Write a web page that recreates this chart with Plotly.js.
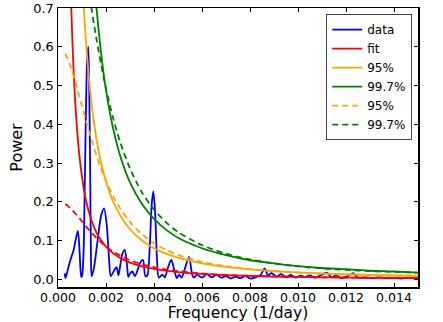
<!DOCTYPE html>
<html>
<head>
<meta charset="utf-8">
<script src="https://cdn.plot.ly/plotly-3.0.1.min.js"></script>
<style>
  html, body { margin: 0; padding: 0; background: #fff; }
  #chart { width: 443px; height: 322px; }
</style>
</head>
<body>
<div id="chart"></div>
<script>
// ── Periodogram data ──────────────────────────────────────────────────────
const dataFreq = [
  0.00028, 0.00031, 0.00036, 0.00045, 0.00056, 0.00065, 0.00073, 0.00083, 0.00090, 0.00097,
  0.00100, 0.00106, 0.00111, 0.00116, 0.00121, 0.00126, 0.00130, 0.00134, 0.00137, 0.00140,
  0.00150, 0.00165, 0.00180, 0.00192, 0.00203, 0.00213, 0.00220,
  0.00236, 0.00244, 0.00252, 0.00258, 0.00268, 0.00278, 0.00287, 0.00293,
  0.00300, 0.00310, 0.00320, 0.00335, 0.00340, 0.00354, 0.00364,
  0.00372, 0.00382, 0.00390, 0.00397, 0.00404, 0.00412, 0.00420,
  0.00435, 0.00445, 0.00458, 0.00472, 0.00486, 0.00495, 0.00505, 0.00515,
  0.00530, 0.00546, 0.00558, 0.00565,
  0.0058, 0.0060, 0.0062, 0.0064, 0.0066, 0.0068, 0.0070, 0.0072, 0.0074, 0.0076,
  0.0078, 0.0080, 0.0082, 0.00845, 0.00861, 0.00875, 0.0089, 0.0091, 0.0093, 0.0095,
  0.0097, 0.0099, 0.0101, 0.0103, 0.0105, 0.0107, 0.0109, 0.0112, 0.0114, 0.0116,
  0.0118, 0.0121, 0.0123, 0.0125, 0.0128, 0.0131, 0.0134, 0.0137, 0.0140, 0.0143,
  0.0146, 0.0150
];
const dataPower = [
  0.015, 0.003, 0.012, 0.035, 0.058, 0.075, 0.100, 0.125, 0.070, 0.006,
  0.008, 0.060, 0.220, 0.420, 0.560, 0.600, 0.500, 0.280, 0.080, 0.008,
  0.030, 0.100, 0.165, 0.183, 0.140, 0.050, 0.008,
  0.025, 0.031, 0.010, 0.030, 0.065, 0.076, 0.040, 0.006,
  0.015, 0.020, 0.008, 0.030, 0.040, 0.050, 0.008,
  0.010, 0.080, 0.190, 0.227, 0.180, 0.060, 0.004,
  0.012, 0.005, 0.030, 0.050, 0.020, 0.003, 0.012, 0.004,
  0.030, 0.058, 0.015, 0.004,
  0.012, 0.004, 0.013, 0.005, 0.012, 0.004, 0.008, 0.002, 0.007, 0.003,
  0.008, 0.002, 0.004, 0.012, 0.028, 0.010, 0.016, 0.007, 0.013, 0.005,
  0.011, 0.004, 0.009, 0.006, 0.010, 0.004, 0.009, 0.017, 0.005, 0.010,
  0.003, 0.009, 0.016, 0.004, 0.005, 0.003, 0.005, 0.003, 0.004, 0.002,
  0.004, 0.003
];

// ── Fit and significance levels (solid) ───────────────────────────────────
const fitFreq = [
  0.00055, 0.0006, 0.0007, 0.0008, 0.0009, 0.0010, 0.0011, 0.0012, 0.0013, 0.0014,
  0.0016, 0.0018, 0.0020, 0.0023, 0.0026, 0.0030, 0.0035, 0.0040, 0.0045, 0.0050,
  0.0060, 0.0070, 0.0080, 0.0090, 0.0100, 0.0110, 0.0120, 0.0130, 0.0140, 0.0150
];
const fitPower = [
  0.707, 0.613, 0.475, 0.381, 0.314, 0.264, 0.225, 0.195, 0.171, 0.151,
  0.121, 0.100, 0.084, 0.0667, 0.0545, 0.0430, 0.0334, 0.0268, 0.0220, 0.0185,
  0.0137, 0.0106, 0.0085, 0.0070, 0.0059, 0.0050, 0.0044, 0.0038, 0.0034, 0.0030
];
const conf95Freq = [
  0.0010, 0.0011, 0.0012, 0.0013, 0.0014, 0.0016, 0.0018, 0.0020, 0.0023, 0.0026,
  0.0030, 0.0035, 0.0040, 0.0045, 0.0050, 0.0060, 0.0070, 0.0080, 0.0090, 0.0100,
  0.0110, 0.0120, 0.0130, 0.0140, 0.0150
];
const conf95Power = [
  0.792, 0.675, 0.585, 0.513, 0.453, 0.363, 0.300, 0.252, 0.200, 0.164,
  0.129, 0.100, 0.080, 0.066, 0.0555, 0.041, 0.032, 0.0255, 0.021, 0.0177,
  0.015, 0.0132, 0.0114, 0.0102, 0.009
];
const conf997Freq = [
  0.0014, 0.0016, 0.0018, 0.0020, 0.0023, 0.0026, 0.0030, 0.0035, 0.0040, 0.0045,
  0.0050, 0.0060, 0.0070, 0.0080, 0.0090, 0.0100, 0.0110, 0.0120, 0.0130, 0.0140,
  0.0150
];
const conf997Power = [
  0.877, 0.703, 0.581, 0.488, 0.388, 0.317, 0.250, 0.194, 0.156, 0.128,
  0.107, 0.080, 0.062, 0.049, 0.041, 0.034, 0.029, 0.026, 0.022, 0.020,
  0.017
];

// ── Alternative fit and its levels (dashed) ───────────────────────────────
const altFreq = [
  0.0003, 0.0004, 0.0005, 0.0006, 0.0007, 0.0008, 0.0009, 0.0010, 0.0011, 0.0012,
  0.0013, 0.0014, 0.0016, 0.0018, 0.0020, 0.0023, 0.0026, 0.0030, 0.0035, 0.0040,
  0.0045, 0.0050, 0.0060, 0.0070, 0.0080, 0.0090, 0.0100, 0.0110, 0.0120, 0.0130,
  0.0140, 0.0150
];
const altFitPower = [
  0.194, 0.190, 0.184, 0.178, 0.171, 0.164, 0.157, 0.149, 0.142, 0.134,
  0.127, 0.120, 0.107, 0.095, 0.085, 0.071, 0.061, 0.049, 0.039, 0.031,
  0.025, 0.021, 0.015, 0.011, 0.0088, 0.0072, 0.0060, 0.0050, 0.0043, 0.0037,
  0.0033, 0.0030
];
const alt95Power = [
  0.582, 0.569, 0.553, 0.534, 0.514, 0.493, 0.470, 0.447, 0.425, 0.402,
  0.381, 0.360, 0.320, 0.285, 0.254, 0.214, 0.182, 0.148, 0.116, 0.093,
  0.076, 0.063, 0.045, 0.034, 0.026, 0.021, 0.017, 0.014, 0.012, 0.0105,
  0.0095, 0.0085
];
const alt997Freq = [
  0.0012, 0.0013, 0.0014, 0.0016, 0.0018, 0.0020, 0.0023, 0.0026, 0.0030, 0.0035,
  0.0040, 0.0045, 0.0050, 0.0060, 0.0070, 0.0080, 0.0090, 0.0100, 0.0110, 0.0120,
  0.0130, 0.0140, 0.0150
];
const alt997Power = [
  0.779, 0.737, 0.697, 0.621, 0.553, 0.492, 0.415, 0.352, 0.286, 0.224,
  0.180, 0.147, 0.122, 0.088, 0.066, 0.051, 0.041, 0.033, 0.028, 0.024,
  0.021, 0.019, 0.017
];

const FONT = 'DejaVu Sans, Arial, sans-serif';
const DASH = '6px,4px';

const line = (name, x, y, color, dash, showlegend) => ({
  x, y,
  type: 'scatter', mode: 'lines',
  name,
  showlegend: showlegend !== false,
  line: { color, width: 1.8, dash: dash || 'solid', shape: 'spline', smoothing: 0.8 },
  hoverinfo: 'skip'
});

const traces = [
  line('data',  dataFreq,    dataPower,    '#0000ff'),
  line('fit',   fitFreq,     fitPower,     '#ff0000'),
  line('95%',   conf95Freq,  conf95Power,  '#ffa500'),
  line('99.7%', conf997Freq, conf997Power, '#008000'),
  line('95%',   altFreq,     alt95Power,   '#ffa500', DASH),
  line('99.7%', alt997Freq,  alt997Power,  '#008000', DASH),
  line('alt fit', altFreq,   altFitPower,  '#ff0000', DASH, false)
];

const axisStyle = {
  showline: true, linecolor: '#000', linewidth: 1.5, mirror: 'allticks',
  ticks: 'inside', ticklen: 4, tickcolor: '#000', tickwidth: 1,
  showgrid: false, zeroline: false,
  tickfont: { family: FONT, size: 13, color: '#000' }
};

const layout = {
  width: 443, height: 322,
  margin: { l: 58, r: 25, t: 8, b: 35 },
  paper_bgcolor: '#fff', plot_bgcolor: '#fff',
  font: { family: FONT, color: '#000' },
  showlegend: true,
  legend: {
    x: 0.984, y: 0.978, xanchor: 'right', yanchor: 'top',
    bgcolor: '#fff', bordercolor: '#444', borderwidth: 1,
    font: { family: FONT, size: 12, color: '#000' },
    tracegroupgap: 0
  },
  xaxis: Object.assign({}, axisStyle, {
    range: [0, 0.015], dtick: 0.002, tick0: 0, tickformat: '.3f', ticklabelstandoff: -2,
    tickfont: { family: FONT, size: 12.5, color: '#000' },
    title: { text: 'Frequency (1/day)', font: { family: FONT, size: 15.5 }, standoff: 0 }
  }),
  yaxis: Object.assign({}, axisStyle, {
    range: [-0.02, 0.7], dtick: 0.1, tick0: 0, tickformat: '.1f',
    title: { text: 'Power', font: { family: FONT, size: 16 }, standoff: 6 }
  })
};

Plotly.newPlot('chart', traces, layout, { displayModeBar: false, staticPlot: true });
</script>
</body>
</html>
